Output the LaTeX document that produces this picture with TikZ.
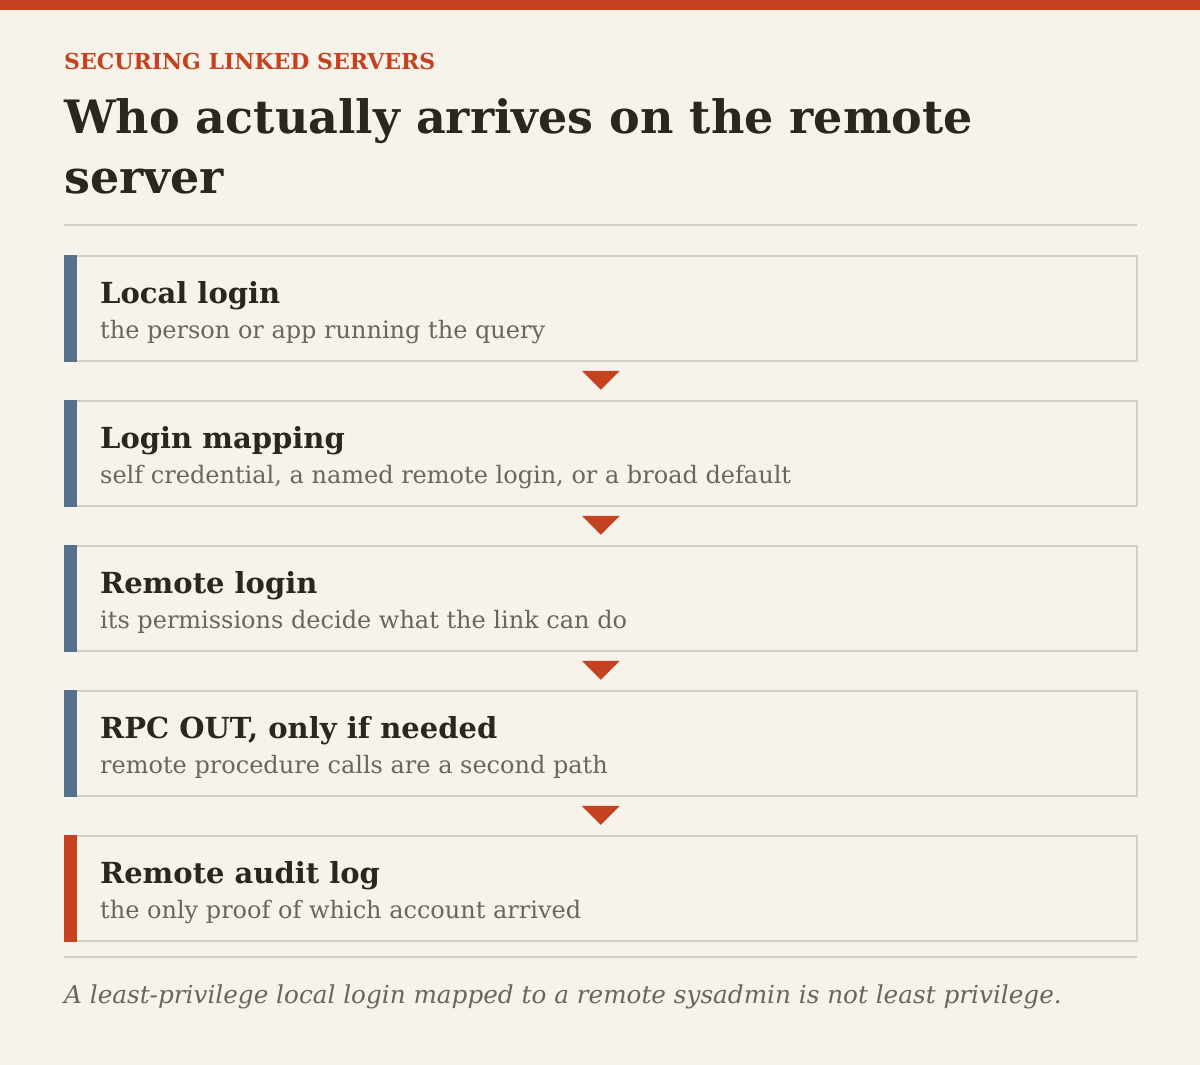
\documentclass[tikz,border=0pt]{standalone}
\usepackage{fontspec}
\setmainfont{DejaVu Serif}
\usetikzlibrary{calc}

\definecolor{paper}{HTML}{F7F3EA}
\definecolor{brick}{HTML}{C4421F}
\definecolor{slate}{HTML}{56718C}
\definecolor{rule}{HTML}{D7CFC3}
\definecolor{ink}{HTML}{2A2621}
\definecolor{muted}{HTML}{6B655C}

\tikzset{
  card/.style={draw=rule, line width=1.6pt, fill=paper, minimum width=1072pt,
    minimum height=105pt, anchor=north west, inner sep=0pt},
  cardhead/.style={anchor=base west, inner sep=0pt, text=ink,
    font=\fontsize{29}{34}\selectfont\bfseries},
  cardsub/.style={anchor=base west, inner sep=0pt, text=muted,
    font=\fontsize{24}{29}\selectfont},
  marker/.style={fill=brick},
}

\begin{document}
\begin{tikzpicture}[x=1pt,y=-1pt]
  % Page and top band
  \fill[paper] (0,0) rectangle (1200,1065);
  \useasboundingbox (0,0) rectangle (1200,1065);
  \fill[brick] (0,0) rectangle (1200,10);
  % Heading
  \node[anchor=base west, inner sep=0pt, text=brick,
    font=\fontsize{22}{26}\selectfont\bfseries] (kicker) at (64,70) {SECURING LINKED SERVERS};
  \node[anchor=base west, inner sep=0pt, text=ink,
    font=\fontsize{46}{60}\selectfont\bfseries] (title) at (64,133) {Who actually arrives on the remote};
  \node[anchor=base west, inner sep=0pt, text=ink,
    font=\fontsize{46}{60}\selectfont\bfseries] (title2) at ($(title.base west)+(0,60)$) {server};
  \draw[rule, line width=1.6pt] (64,225) -- (1137,225);
  % Steps
  \foreach \i/\head/\sub/\bar [remember=\i as \prev (initially 0)] in {
      1/{Local login}/{the person or app running the query}/slate,
      2/{Login mapping}/{self credential, a named remote login, or a broad default}/slate,
      3/{Remote login}/{its permissions decide what the link can do}/slate,
      4/{RPC OUT, only if needed}/{remote procedure calls are a second path}/slate,
      5/{Remote audit log}/{the only proof of which account arrived}/brick}{
    \node[card] (b\i) at (64,{255+145*(\i-1)}) {};
    \fill[\bar] (b\i.north west) rectangle ($(b\i.south west)+(13,0)$);
    \node[cardhead] (h\i) at ($(b\i.north west)+(36,48)$) {\head};
    \node[cardsub] (s\i) at ($(b\i.north west)+(36,83)$) {\sub};
    \ifnum\i>1
      \fill[marker] ($(b\prev.south)!0.5!(b\i.north)+(-19,-10)$) -- ++(38,0) -- ++(-19,19) -- cycle;
    \fi
  }
  % Footer
  \draw[rule, line width=1.6pt] (64,957) -- (1137,957);
  \node[anchor=base west, inner sep=0pt, text=muted,
    font=\fontsize{24.7}{29}\selectfont\itshape] (note) at (64,1003)
    {A least-privilege local login mapped to a remote sysadmin is not least privilege.};
\end{tikzpicture}
\end{document}
